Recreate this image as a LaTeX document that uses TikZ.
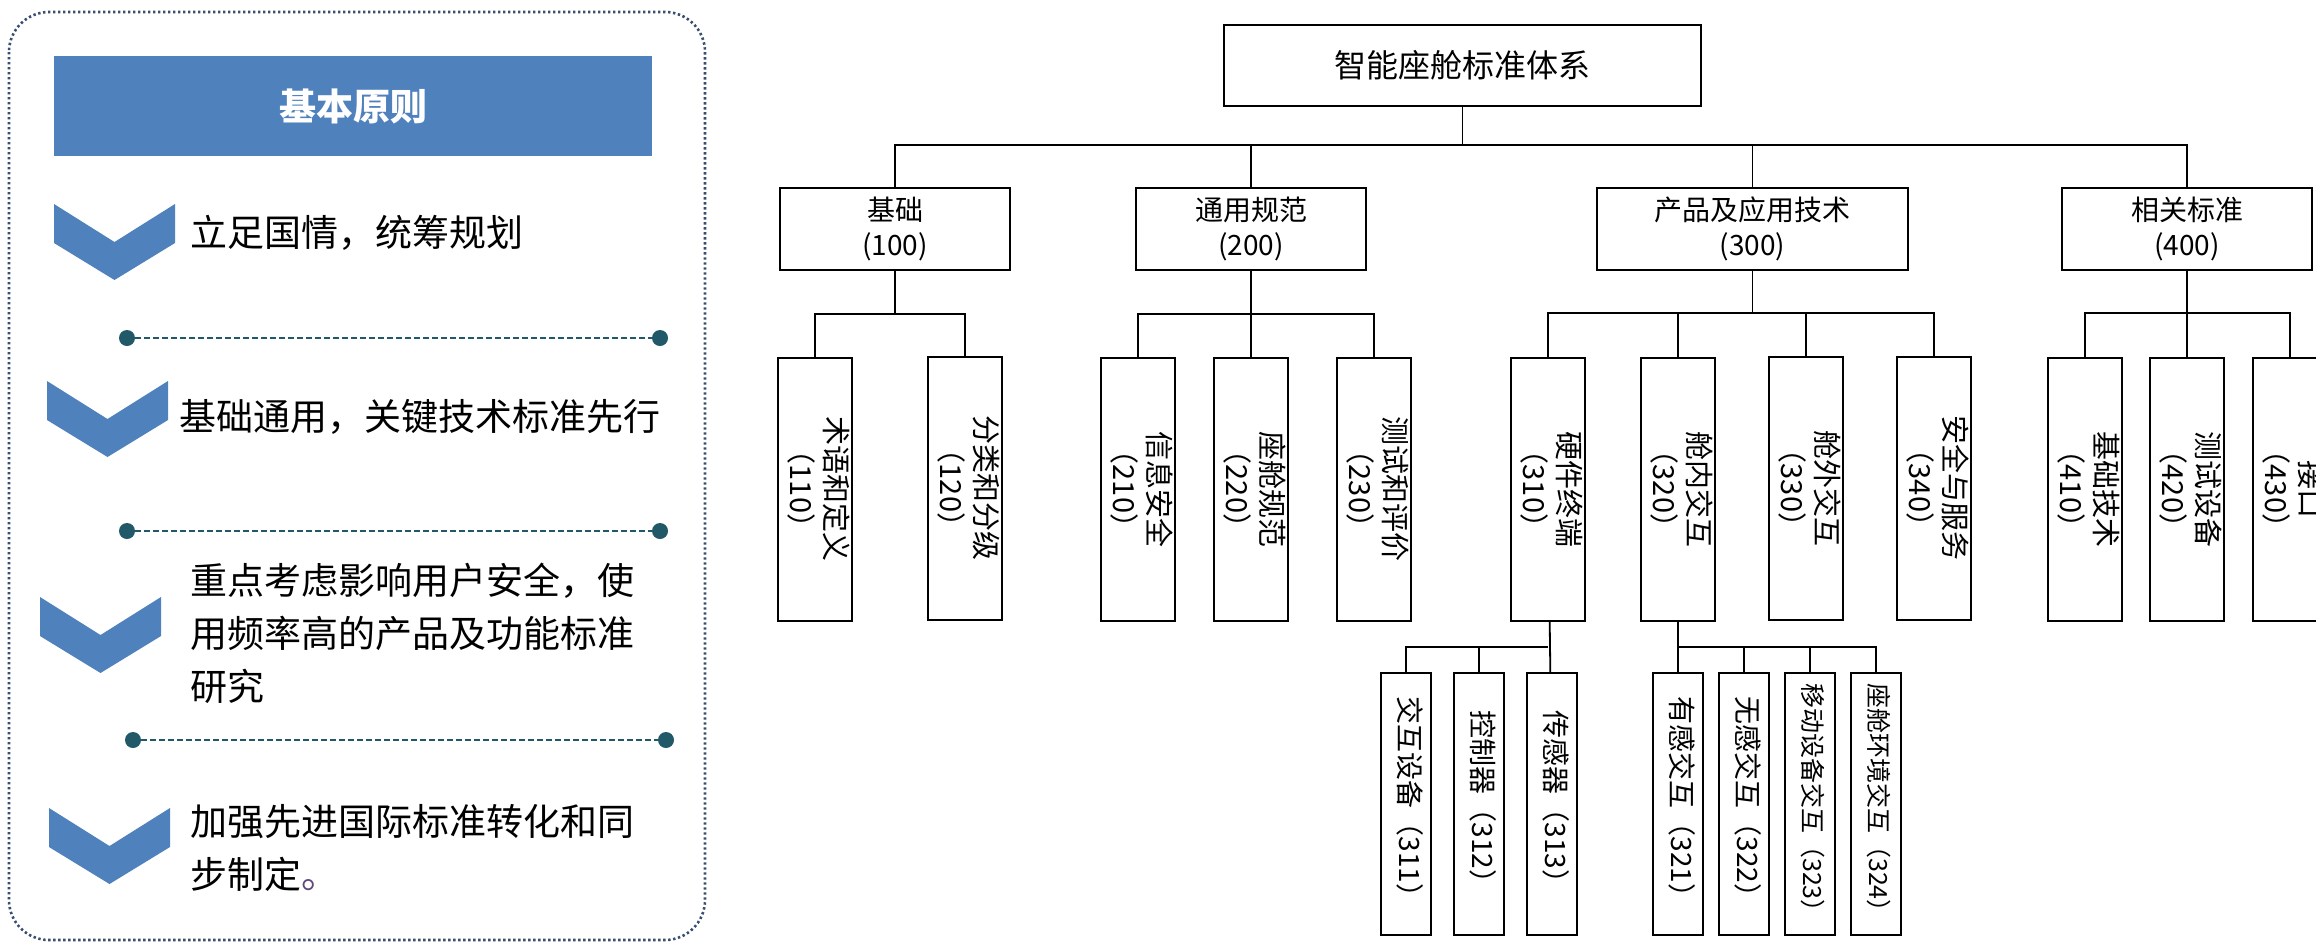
\documentclass[tikz,border=0pt]{standalone}
\usepackage{fontspec}
\setmainfont{Noto Sans CJK SC}
\usepackage{graphicx}
\usetikzlibrary{positioning}

\definecolor{hdblue}{RGB}{79,129,189}
\definecolor{septeal}{RGB}{33,89,104}
\definecolor{framegray}{RGB}{59,78,112}
\definecolor{dotpurple}{RGB}{96,73,122}

% text turned a quarter clockwise, lines stacked right to left
\newcommand{\vlabel}[1]{\rotatebox{-90}{\begin{tabular}{@{}c@{}}#1\end{tabular}}}

\begin{document}
\begin{tikzpicture}[
  x=0.5pt, y=-0.5pt,
  box/.style={draw, line width=1pt, inner sep=0pt, align=center},
  top/.style={box, minimum width=238.5pt, minimum height=40.5pt, font=\fontsize{16}{19}\selectfont},
  lvone/.style={box, minimum height=41pt, font=\fontsize{14}{17.5}\selectfont},
  lvtwo/.style={box, minimum width=37pt, minimum height=131.5pt, font=\fontsize{14.5}{17.5}\selectfont},
  lvthree/.style={box, minimum width=25pt, minimum height=131pt, font=\fontsize{14}{17}\selectfont},
  link/.style={draw, line width=0.9pt},
  dot/.style={circle, fill=septeal, inner sep=0pt, minimum size=8pt},
  sepline/.style={septeal, line width=1pt, dash pattern=on 3pt off 1.5pt},
  principle/.style={anchor=west, align=left, inner sep=0pt, font=\fontsize{18.5}{26.5}\selectfont},
  node distance=10.5pt,
]
  \fill[white] (0,0) rectangle (2316,943);
  \useasboundingbox (0,0) rectangle (2316,943);
  \clip (0,0) rectangle (2316,943);

  % left panel: basic principles
  \draw[framegray, line width=1.3pt, dash pattern=on 1.2pt off 1.3pt, rounded corners=20pt]
       (9,12) rectangle (705,940);
  \node[fill=hdblue, minimum width=299pt, minimum height=50pt, text=white,
        font=\bfseries\fontsize{18.5}{22}\selectfont] (head) at (353,106) {基本原则};

  \foreach \cx/\cy in {54/204, 47/381, 40/597, 49/808}
    \fill[hdblue] (\cx,\cy) -- ++(60.5,38) -- ++(60.5,-38) -- ++(0,39)
                  -- ++(-60.5,37) -- ++(-60.5,-37) -- cycle;

  \node[principle] (p1) at (190,233) {立足国情，统筹规划};
  \node[principle] (p2) at (179,417) {基础通用，关键技术标准先行};
  \node[principle] (p3) at (190,633) {重点考虑影响用户安全，使\\用频率高的产品及功能标准\\研究};
  \node[principle] (p4) at (190,848) {加强先进国际标准转化和同\\步制定\textcolor{dotpurple}{。}};

  \node[dot] (d1a) at (127,338) {}; \node[dot] (d1b) at (660,338) {};
  \node[dot] (d2a) at (127,531) {}; \node[dot] (d2b) at (660,531) {};
  \node[dot] (d3a) at (133,740) {}; \node[dot] (d3b) at (666,740) {};
  \draw[sepline] (d1a) -- (d1b);
  \draw[sepline] (d2a) -- (d2b);
  \draw[sepline] (d3a) -- (d3b);

  % standard tree
  \node[top] (root) at (1462.5,65.5) {智能座舱标准体系};

  \node[lvone, minimum width=115pt]   (c100) at (895,229)    {基础\\(100)};
  \node[lvone, minimum width=115pt]   (c200) at (1251,229)   {通用规范\\(200)};
  \node[lvone, minimum width=155.5pt] (c300) at (1752.5,229) {产品及应用技术\\(300)};
  \node[lvone, minimum width=125pt]   (c400) at (2187,229)   {相关标准\\(400)};

  \node[lvtwo] (t110) at (815,489)    {\vlabel{术语和定义\\（110）}};
  \node[lvtwo] (t120) at (965,488)    {\vlabel{分类和分级\\（120）}};
  \node[lvtwo] (t210) at (1138,489)   {\vlabel{信息安全\\（210）}};
  \node[lvtwo] (t220) at (1251,489)   {\vlabel{座舱规范\\（220）}};
  \node[lvtwo] (t230) at (1374,489)   {\vlabel{测试和评价\\（230）}};
  \node[lvtwo] (t310) at (1548,489)   {\vlabel{硬件终端\\（310）}};
  \node[lvtwo] (t320) at (1678,489)   {\vlabel{舱内交互\\（320）}};
  \node[lvtwo] (t330) at (1806,488)   {\vlabel{舱外交互\\（330）}};
  \node[lvtwo] (t340) at (1934,488)   {\vlabel{安全与服务\\（340）}};
  \node[lvtwo] (t410) at (2085,489)   {\vlabel{基础技术\\（410）}};
  \node[lvtwo] (t420) at (2187,489)   {\vlabel{测试设备\\（420）}};
  \node[lvtwo] (t430) at (2290,489)   {\vlabel{接口\\（430）}};

  \node[lvthree] (u311) at (1406,804)     {\vlabel{交互设备（311）}};
  \node[lvthree, right=of u311] (u312)    {\vlabel{控制器（312）}};
  \node[lvthree, right=of u312] (u313)    {\vlabel{传感器（313）}};
  \node[lvthree] (u321) at (1678,804)     {\vlabel{有感交互（321）}};
  \node[lvthree, right=7pt of u321] (u322) {\vlabel{无感交互（322）}};
  \node[lvthree, right=7pt of u322, font=\fontsize{12.5}{15}\selectfont] (u323) {\vlabel{移动设备交互（323）}};
  \node[lvthree, right=7pt of u323, font=\fontsize{12.5}{15}\selectfont] (u324) {\vlabel{座舱环境交互（324）}};

  \coordinate (bus0) at (1462.5,145);
  \coordinate (bus1) at (895,314);
  \coordinate (bus2) at (1251,314);
  \coordinate (bus3) at (1752.5,313);
  \coordinate (bus4) at (2187,313);
  \coordinate (bus5) at (1548,647);
  \coordinate (bus6) at (1678,647);

  \draw[link] (root) -- (bus0);
  \draw[link] (c100.north) |- (bus0) -| (c400.north);
  \draw[link] (c200.north) -- (c200.north |- bus0);
  \draw[link] (c300.north) -- (c300.north |- bus0);

  \draw[link] (c100) -- (bus1);
  \draw[link] (t110.north) |- (bus1) -| (t120.north);
  \draw[link] (c200) -- (t220);
  \draw[link] (t210.north) |- (bus2) -| (t230.north);
  \draw[link] (c300) -- (bus3);
  \draw[link] (t310.north) |- (bus3) -| (t340.north);
  \draw[link] (t320.north) -- (t320.north |- bus3);
  \draw[link] (t330.north) -- (t330.north |- bus3);
  \draw[link] (c400) -- (t420);
  \draw[link] (t410.north) |- (bus4) -| (t430.north);

  \draw[link] (t310) -- (u313);
  \draw[link] (u311.north) |- (bus5);
  \draw[link] (u312.north) -- (u312.north |- bus5);
  \draw[link] (t320) -- (u321);
  \draw[link] (bus6) -| (u324.north);
  \draw[link] (u322.north) -- (u322.north |- bus6);
  \draw[link] (u323.north) -- (u323.north |- bus6);
\end{tikzpicture}
\end{document}
